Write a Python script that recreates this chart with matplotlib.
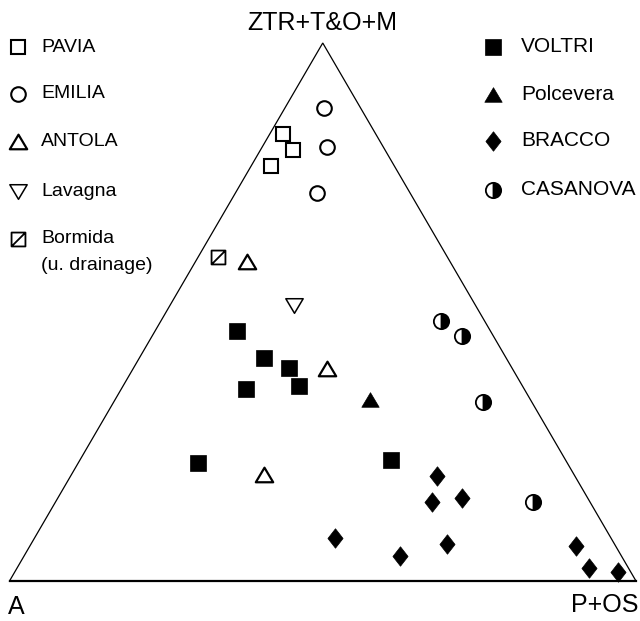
import numpy as np
import matplotlib
matplotlib.use("Agg")
import matplotlib.pyplot as plt
from matplotlib.path import Path

plt.rcParams['font.family'] = ['Liberation Sans', 'DejaVu Sans']

# Corner labels
label_top = "ZTR+T&O+M"
label_left = "A"
label_right = "P+OS"

# Ternary compositions (%): ZTR+T&O+M (top), A (left), P+OS (right)
pavia_ztr = [83.0, 80.2, 77.1]
pavia_a = [14.9, 14.7, 19.7]
pavia_pos = [2.1, 5.1, 3.2]

emilia_ztr = [88.0, 80.7, 72.1]
emilia_a = [5.8, 9.0, 14.8]
emilia_pos = [6.2, 10.3, 13.1]

antola_ztr = [59.3, 39.4, 19.7]
antola_a = [32.5, 29.6, 49.6]
antola_pos = [8.2, 31.0, 30.7]

lavagna_ztr = [51.3]
lavagna_a = [28.9]
lavagna_pos = [19.8]

bormida_ztr = [60.3]
bormida_a = [36.5]
bormida_pos = [3.2]

voltri_ztr = [46.5, 41.4, 39.5, 35.6, 36.3, 21.9, 22.4]
voltri_a = [40.5, 38.7, 35.7, 44.5, 35.7, 58.9, 27.9]
voltri_pos = [13.0, 19.9, 24.8, 19.9, 28.0, 19.2, 49.7]

polcevera_ztr = [33.6]
polcevera_a = [25.7]
polcevera_pos = [40.7]

bracco_ztr = [19.6, 14.6, 15.4, 7.9, 4.6, 6.8, 6.5, 2.5, 1.7]
bracco_a = [21.9, 25.3, 20.1, 44.1, 35.4, 26.8, 6.4, 6.3, 2.1]
bracco_pos = [58.5, 60.1, 64.5, 48.0, 60.0, 66.4, 87.1, 91.2, 96.2]

casanova_ztr = [48.3, 45.6, 33.2, 14.6]
casanova_a = [6.9, 5.0, 7.9, 9.1]
casanova_pos = [44.8, 49.4, 58.9, 76.3]

legend_left = ["PAVIA", "EMILIA", "ANTOLA", "Lavagna", "Bormida"]
legend_right = ["VOLTRI", "Polcevera", "BRACCO", "CASANOVA"]


def tern(ztr, a, pos):
    ztr = np.asarray(ztr, float); a = np.asarray(a, float); pos = np.asarray(pos, float)
    tot = ztr + a + pos
    y = ztr / tot
    x = pos / tot + 0.5 * y
    return x, y


W, H = 640, 621
fig = plt.figure(figsize=(W / 100, H / 100), dpi=100)
# triangle: base from px 9.5 to 636 at y=581, apex at y=43
base_l, base_r, base_y, apex_y = 9.5, 636.0, 581.0, 43.0
sx = base_r - base_l
sy = base_y - apex_y
ax = fig.add_axes([0, 0, 1, 1])
ax.set_xlim((0 - base_l) / sx, (W - base_l) / sx)
ax.set_ylim(-(H - base_y) / sy, base_y / sy)
ax.axis('off')

# triangle
ax.plot([0, 0.5, 1.0], [0, 1, 0], color='black', lw=0.9, solid_joinstyle='miter')
ax.plot([0, 1.0], [0, 0], color='black', lw=1.6)

# custom markers
diamond = Path([(0, 1), (0.78, 0), (0, -1), (-0.78, 0), (0, 1)],
               [Path.MOVETO, Path.LINETO, Path.LINETO, Path.LINETO, Path.CLOSEPOLY])
tri_up = Path([(-1, -0.78), (1, -0.78), (0, 0.9), (-1, -0.78)],
              [Path.MOVETO, Path.LINETO, Path.LINETO, Path.CLOSEPOLY])
tri_dn = Path([(-1, 0.78), (1, 0.78), (0, -0.9), (-1, 0.78)],
              [Path.MOVETO, Path.LINETO, Path.LINETO, Path.CLOSEPOLY])
sq_diag = Path([(-1, -1), (1, -1), (1, 1), (-1, 1), (-1, -1), (-1, -1), (1, 1)],
               [Path.MOVETO, Path.LINETO, Path.LINETO, Path.LINETO, Path.CLOSEPOLY,
                Path.MOVETO, Path.LINETO])

styles = {
    "PAVIA": dict(marker='s', ms=9.5, mfc='white', mec='black', mew=1.5),
    "EMILIA": dict(marker='o', ms=10.5, mfc='white', mec='black', mew=1.5),
    "ANTOLA": dict(marker=tri_up, ms=12.5, mfc='white', mec='black', mew=1.6),
    "Lavagna": dict(marker=tri_dn, ms=12.5, mfc='white', mec='black', mew=1.1),
    "Bormida": dict(marker=sq_diag, ms=10, mfc='none', mec='black', mew=1.3),
    "VOLTRI": dict(marker='s', ms=11, mfc='black', mec='black', mew=0.5),
    "Polcevera": dict(marker=tri_up, ms=12.5, mfc='black', mec='black', mew=0.5),
    "BRACCO": dict(marker=diamond, ms=14, mfc='black', mec='black', mew=0.5),
    "CASANOVA": dict(marker='o', ms=11, mfc='black', mfcalt='white', fillstyle='right',
                     mec='black', mew=1.3),
}


def style_kw(name):
    st = dict(styles[name])
    mfcalt = st.pop('mfcalt', None)
    kw = dict(ls='none', **st)
    if mfcalt is not None:
        kw['markerfacecoloralt'] = mfcalt
    return kw


def draw(name, ztr, a, pos):
    x, y = tern(ztr, a, pos)
    ax.plot(x, y, **style_kw(name))


draw("PAVIA", pavia_ztr, pavia_a, pavia_pos)
draw("EMILIA", emilia_ztr, emilia_a, emilia_pos)
draw("ANTOLA", antola_ztr, antola_a, antola_pos)
draw("Lavagna", lavagna_ztr, lavagna_a, lavagna_pos)
draw("Bormida", bormida_ztr, bormida_a, bormida_pos)
draw("VOLTRI", voltri_ztr, voltri_a, voltri_pos)
draw("Polcevera", polcevera_ztr, polcevera_a, polcevera_pos)
draw("BRACCO", bracco_ztr, bracco_a, bracco_pos)
draw("CASANOVA", casanova_ztr, casanova_a, casanova_pos)

# corner labels
fs_corner = 18
fig.text(322 / W, 1 - 22.5 / H, label_top, ha='center', va='center', fontsize=fs_corner)
fig.text(8 / W, 1 - 607 / H, label_left, ha='left', va='center', fontsize=fs_corner)
fig.text(638.5 / W, 1 - 605 / H, label_right, ha='right', va='center', fontsize=fs_corner)

# legend (manual)
fs_leg_left = 14
fs_leg_right = 15
left_y = [47, 94, 142, 191, 239]
for name, py in zip(legend_left, left_y):
    ax.plot([18 / W], [1 - py / H], transform=fig.transFigure, clip_on=False, **style_kw(name))
    fig.text(41 / W, 1 - py / H, name, ha='left', va='center', fontsize=fs_leg_left)
fig.text(41 / W, 1 - 265 / H, "(u. drainage)", ha='left', va='center', fontsize=fs_leg_left)

right_y = [47, 95, 141, 189.5]
for name, py in zip(legend_right, right_y):
    ax.plot([493 / W], [1 - py / H], transform=fig.transFigure, clip_on=False, **style_kw(name))
    fig.text(521 / W, 1 - py / H, name, ha='left', va='center', fontsize=fs_leg_right)

fig.savefig("out.png", dpi=100)
